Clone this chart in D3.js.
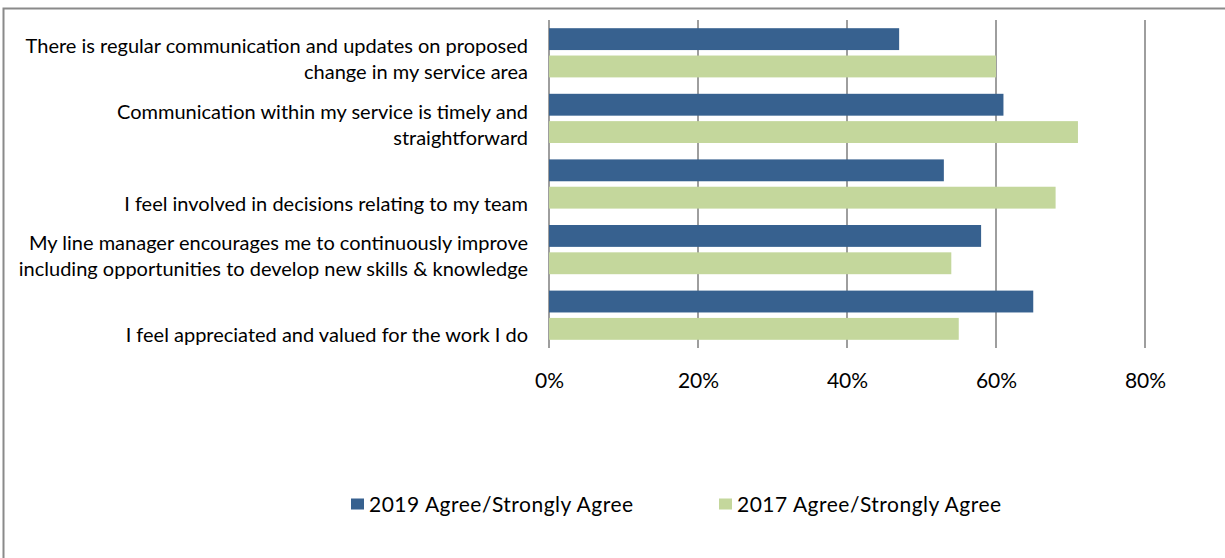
<!DOCTYPE html>
<html><head><meta charset="utf-8">
<script src="https://cdn.jsdelivr.net/npm/d3@7"></script>
<style>html,body{margin:0;padding:0;background:#fff;}svg{display:block;}</style>
</head><body>
<svg id="c" width="1225" height="558"></svg>
<script>
const categories = [
  ["There is regular communication and updates on proposed", "change in my service area"],
  ["Communication within my service is timely and", "straightforward"],
  ["", "I feel involved in decisions relating to my team"],
  ["My line manager encourages me to continuously improve", "including opportunities to develop new skills & knowledge"],
  ["", "I feel appreciated and valued for the work I do"]
];
const seriesNames = ["2019 Agree/Strongly Agree", "2017 Agree/Strongly Agree"];
const values2019 = [0.47, 0.61, 0.53, 0.58, 0.65];
const values2017 = [0.60, 0.71, 0.68, 0.54, 0.55];
const tickValues = [0, 0.2, 0.4, 0.6, 0.8];
const colors = ["#37618F", "#C4D79C"];

const FONT = "Lato, 'Open Sans', sans-serif";
const svg = d3.select("#c");

// outer frame
svg.append("rect").attr("x", 3.5).attr("y", 8.5).attr("width", 1240).attr("height", 560)
  .attr("fill", "none").attr("stroke", "#8a8a8a").attr("stroke-width", 2);

const x = d3.scaleLinear().domain([0, 0.8]).range([549, 1145]);
const idx = categories.map((d, i) => i);
const y = d3.scaleBand().domain(idx).range([20, 348]).paddingInner(0.25).paddingOuter(0.125);
const ys = d3.scaleBand().domain([0, 1]).range([0, y.bandwidth()]).paddingInner(0.2);

// gridlines
svg.append("g").selectAll("line").data(tickValues).join("line")
  .attr("x1", d => x(d)).attr("x2", d => x(d))
  .attr("y1", 20).attr("y2", 348)
  .attr("stroke", "#868686").attr("stroke-width", 1.6);

// axis tick labels
const xAxis = d3.axisBottom(x).tickValues(tickValues).tickFormat(d3.format(".0%")).tickSize(0).tickPadding(0);
const ax = svg.append("g").attr("transform", "translate(0,379)").call(xAxis);
ax.select(".domain").remove();
ax.selectAll("text").attr("font-family", FONT).attr("font-size", 21).attr("fill", "#000")
  .attr("dy", null).attr("dominant-baseline", "central");

// bars
const series = [values2019, values2017];
series.forEach((vals, s) => {
  svg.append("g").selectAll("rect").data(vals).join("rect")
    .attr("x", x(0)).attr("y", (d, i) => y(i) + ys(s))
    .attr("width", d => x(d) - x(0)).attr("height", ys.bandwidth())
    .attr("fill", colors[s]);
});

// category labels
const lab = svg.append("g").attr("font-family", FONT).attr("font-size", 20).attr("fill", "#000").attr("text-anchor", "end");
categories.forEach((lines, i) => {
  const cy = y(i) + y.bandwidth() / 2;
  lines.forEach((t, j) => {
    if (!t) return;
    lab.append("text").attr("x", 528).attr("y", cy + (j === 0 ? -7.5 : 18.5))
      .attr("dominant-baseline", "central").text(t);
  });
});

// legend
const legX = [351, 719];
const leg = svg.append("g").attr("font-family", FONT).attr("font-size", 21).attr("letter-spacing", 0.5);
seriesNames.forEach((n, i) => {
  leg.append("rect").attr("x", legX[i]).attr("y", 498.5).attr("width", 13).attr("height", 11).attr("fill", colors[i]);
  leg.append("text").attr("x", legX[i] + 18).attr("y", 503).attr("dominant-baseline", "central").text(n);
});
</script>
</body></html>
